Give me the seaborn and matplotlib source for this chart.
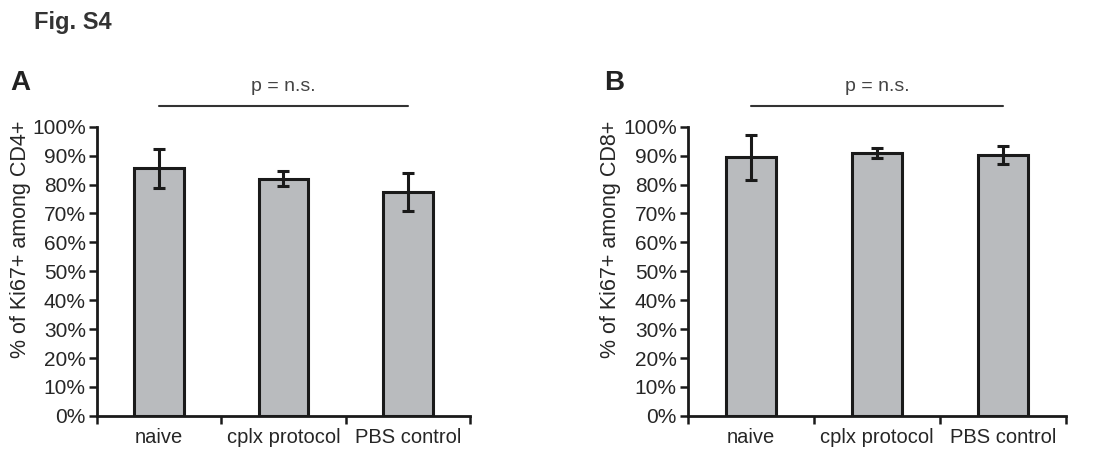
import numpy as np
import pandas as pd
import matplotlib
matplotlib.use("Agg")
from matplotlib import pyplot as plt
from matplotlib.ticker import PercentFormatter
import seaborn as sns

groups = ['naive', 'cplx protocol', 'PBS control']
cd4_mean = [85.6, 82.0, 77.5]
cd4_err = [6.7, 2.6, 6.5]
cd8_mean = [89.4, 90.9, 90.3]
cd8_err = [7.9, 1.8, 3.1]

sns.set_theme(style="ticks")
plt.rcParams['font.family'] = ['Liberation Sans', 'DejaVu Sans']
text_col = '#262626'
bar_col = '#b9bbbe'


def draw_panel(ax, means, errs, ylabel):
    df = pd.DataFrame({'group': groups, 'value': means})
    sns.barplot(data=df, x='group', y='value', color=bar_col, width=0.4,
                edgecolor='#1a1a1a', linewidth=2.2, saturation=1, ax=ax)
    pos = ax.get_xticks()
    ax.errorbar(pos, means, yerr=errs, fmt='none', ecolor='#1a1a1a',
                elinewidth=2.2, capsize=4, capthick=2.2, zorder=5)
    ax.set_xlim(-0.5, len(groups) - 0.5)
    ax.set_ylim(0, 100)
    ax.set_yticks(np.arange(0, 101, 10))
    ax.yaxis.set_major_formatter(PercentFormatter(decimals=0))
    ax.set_xticks(pos)
    ax.set_xticklabels(groups)
    ax.set_xticks(np.arange(-0.5, len(groups), 1.0), minor=True)
    ax.tick_params(axis='x', which='major', length=0, pad=9, labelsize=14.5, labelcolor=text_col)
    ax.tick_params(axis='x', which='minor', length=6, width=1.8, direction='out', color='#1a1a1a')
    ax.tick_params(axis='y', length=6, width=1.8, direction='out', pad=2, labelsize=15,
                   labelcolor=text_col, color='#1a1a1a')
    ax.set_xlabel('')
    ax.set_ylabel(ylabel, fontsize=15.5, color=text_col)
    ax.yaxis.set_label_coords(-0.178, 0.61)
    sns.despine(ax=ax)
    for s in ['left', 'bottom']:
        ax.spines[s].set_linewidth(2.0)
        ax.spines[s].set_color('#1a1a1a')
    # significance bar
    ax.plot([pos[0], pos[-1]], [107, 107], color='#333333', lw=1.5, clip_on=False)
    ax.text((pos[0] + pos[-1]) / 2, 111, 'p = n.s.', ha='center', va='bottom',
            fontsize=14, color='#444444')


fig = plt.figure(figsize=(11.02, 4.51), dpi=100)
ax1 = fig.add_axes([0.088, 0.078, 0.3385, 0.641])
ax2 = fig.add_axes([0.6243, 0.078, 0.343, 0.641])

draw_panel(ax1, cd4_mean, cd4_err, '% of Ki67+ among CD4+')
draw_panel(ax2, cd8_mean, cd8_err, '% of Ki67+ among CD8+')

fig.text(0.031, 0.95, 'Fig. S4', fontsize=17, fontweight='bold', color='#333333', va='center')
fig.text(0.009, 0.815, 'A', fontsize=20, fontweight='bold', color='#222222', va='center')
fig.text(0.548, 0.815, 'B', fontsize=20, fontweight='bold', color='#222222', va='center')

fig.savefig('out.png', dpi=100, facecolor='white')
